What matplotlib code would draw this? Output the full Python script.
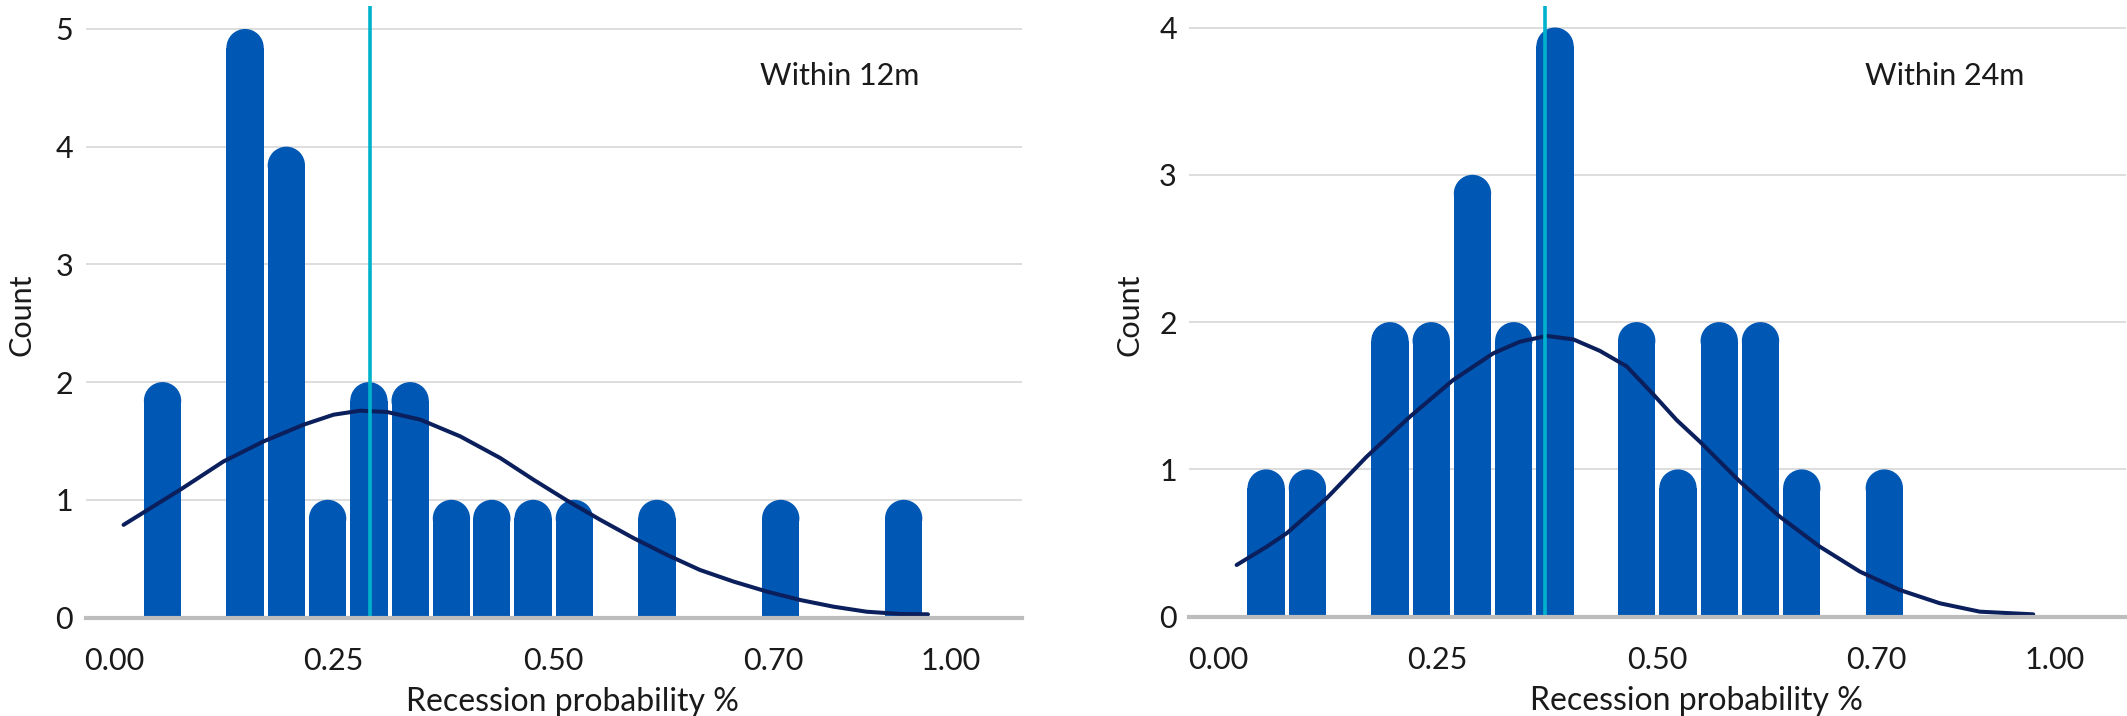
import matplotlib
matplotlib.use("Agg")
import matplotlib.pyplot as plt
from matplotlib.patches import Ellipse

plt.rcParams['font.family'] = ['Lato', 'DejaVu Sans']

# ---------------- data ----------------
bin_centers = [0.055, 0.102, 0.149, 0.196, 0.243, 0.290, 0.337, 0.384, 0.430, 0.477,
               0.524, 0.571, 0.618, 0.665, 0.712, 0.759, 0.806, 0.853, 0.899]
counts_12m = [2, 0, 5, 4, 1, 2, 2, 1, 1, 1, 1, 0, 1, 0, 0, 1, 0, 0, 1]
counts_24m = [1, 1, 0, 2, 2, 3, 2, 4, 0, 2, 1, 2, 2, 1, 0, 1, 0, 0, 0]

curve_12m_x = [0.0106, 0.075, 0.1245, 0.170, 0.2156, 0.2498, 0.280, 0.3106, 0.3485, 0.394,
               0.4396, 0.4776, 0.5156, 0.5535, 0.5915, 0.6295, 0.667, 0.7054, 0.7434, 0.781,
               0.819, 0.857, 0.895, 0.9267]
curve_12m_y = [0.787, 1.085, 1.326, 1.496, 1.638, 1.723, 1.757, 1.746, 1.681, 1.539,
               1.355, 1.170, 0.994, 0.830, 0.674, 0.532, 0.404, 0.305, 0.220, 0.149,
               0.092, 0.049, 0.030, 0.027]

curve_24m_x = [0.0214, 0.0556, 0.0783, 0.1239, 0.1694, 0.2188, 0.268, 0.3136, 0.344, 0.3744,
               0.4047, 0.435, 0.4655, 0.4958, 0.5225, 0.549, 0.5946, 0.640, 0.6857, 0.7312,
               0.7768, 0.8223, 0.8679, 0.9286]
curve_24m_y = [0.351, 0.475, 0.566, 0.804, 1.086, 1.358, 1.607, 1.788, 1.867, 1.906,
               1.883, 1.805, 1.700, 1.510, 1.335, 1.188, 0.917, 0.679, 0.475, 0.306,
               0.181, 0.091, 0.034, 0.016]

mean_12m = 0.2908
mean_24m = 0.3725

xtick_pos = [0.0, 0.25, 0.5, 0.75, 0.953]
xtick_labels = ['0.00', '0.25', '0.50', '0.70', '1.00']
yticks_12m = [0, 1, 2, 3, 4, 5]
yticks_24m = [0, 1, 2, 3, 4]

titles = ['Within 12m', 'Within 24m']
xlabel = 'Recession probability %'
ylabel = 'Count'

# ---------------- style ----------------
BAR = '#0057B4'
NAVY = '#0A1F5C'
CYAN = '#00B2CC'
GRID = '#DADADA'
AXIS = '#BDBDBD'
TXT = '#1A1A1A'
BAR_W = 0.0425
FS = 22

W, H = 2127, 716
fig = plt.figure(figsize=(W / 100, H / 100), dpi=100)

specs = [
    dict(rect=[85.7 / W, (H - 617.5) / H, 936.5 / W, 611.5 / H], counts=counts_12m,
         cx=curve_12m_x, cy=curve_12m_y, mean=mean_12m, yt=yticks_12m, ytop=5.195,
         title=titles[0], tx=840, xlab_x=0.52),
    dict(rect=[1189.3 / W, (H - 616.7) / H, 936.5 / W, 610.7 / H], counts=counts_24m,
         cx=curve_24m_x, cy=curve_24m_y, mean=mean_24m, yt=yticks_24m, ytop=4.146,
         title=titles[1], tx=1945, xlab_x=0.542),
]

for s in specs:
    ax = fig.add_axes(s['rect'])
    xlim = (-0.0325, 1.034)
    ax.set_xlim(*xlim)
    ax.set_ylim(0, s['ytop'])
    ax_w_px = s['rect'][2] * W
    ax_h_px = s['rect'][3] * H
    sx = ax_w_px / (xlim[1] - xlim[0])
    sy = ax_h_px / s['ytop']
    r_x = BAR_W / 2
    r_y = r_x * sx / sy

    for yv in s['yt'][1:]:
        ax.axhline(yv, color=GRID, lw=1.3, zorder=0)

    xs = [c for c, n in zip(bin_centers, s['counts']) if n > 0]
    hs = [n for n in s['counts'] if n > 0]
    ax.bar(xs, [h - r_y for h in hs], width=BAR_W, color=BAR, zorder=2, linewidth=0)
    for x, h in zip(xs, hs):
        ax.add_patch(Ellipse((x, h - r_y), BAR_W, 2 * r_y, facecolor=BAR,
                             edgecolor='none', zorder=2))

    ax.plot(s['cx'], s['cy'], color=NAVY, lw=2.9, solid_capstyle='round',
            solid_joinstyle='round', zorder=3)
    ax.axvline(s['mean'], color=CYAN, lw=2.6, zorder=4)

    for sp in ['top', 'right', 'left']:
        ax.spines[sp].set_visible(False)
    ax.spines['bottom'].set_color(AXIS)
    ax.spines['bottom'].set_linewidth(3.0)
    ax.spines['bottom'].set_zorder(5)

    ax.set_xticks(xtick_pos)
    ax.set_xticklabels(xtick_labels)
    ax.set_yticks(s['yt'])
    ax.set_yticklabels([str(v) for v in s['yt']])
    ax.tick_params(axis='both', length=0, labelsize=FS, colors=TXT)
    ax.tick_params(axis='x', pad=21)
    ax.tick_params(axis='y', pad=9)

    ax.set_xlabel(xlabel, fontsize=23, color=TXT)
    ax.xaxis.set_label_coords(s['xlab_x'], -0.113)
    ax.set_ylabel(ylabel, fontsize=FS, color=TXT)

    fig.text(s['tx'] / W, 1 - 76.3 / H, s['title'], ha='center', va='center',
             fontsize=FS, color=TXT)

axes = fig.axes
axes[0].yaxis.set_label_coords((36 - 85.7) / 936.5, (617.5 - 314.7) / 611.5)
axes[1].yaxis.set_label_coords((1144 - 1189.3) / 936.5, (616.7 - 315) / 610.7)

fig.savefig('out.png', dpi=100, facecolor='white')
